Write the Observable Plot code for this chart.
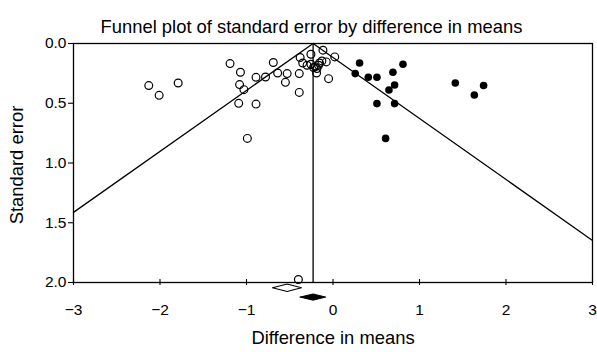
<!DOCTYPE html>
<html>
<head>
<meta charset="utf-8">
<script src="https://cdn.jsdelivr.net/npm/d3@7"></script>
<script src="https://cdn.jsdelivr.net/npm/@observablehq/plot@0.6"></script>
<style>
  html, body { margin: 0; padding: 0; background: #fff; }
  svg { display: block; }
</style>
</head>
<body>
<div id="chart"></div>
<script>
// ---- Data ----
const titleText = "Funnel plot of standard error by difference in means";
const xLabel = "Difference in means";
const yLabel = "Standard error";

const xTicks = [-3, -2, -1, 0, 1, 2, 3];
const yTicks = [0, 0.5, 1, 1.5, 2];

// Observed studies (open circles): difference in means
const observedDiff = [
  -2.13, -2.01, -1.79, -1.19, -1.07, -0.89, -1.08, -1.03, -1.09, -0.89,
  -0.99, -0.78, -0.69, -0.64, -0.53, -0.55, -0.39, -0.39, -0.38, -0.35,
  -0.30, -0.255, -0.255, -0.225, -0.205, -0.186, -0.167, -0.19, -0.156, -0.128,
  -0.116, -0.078, -0.051, 0.02, -0.40
];
// Observed studies: standard error
const observedSE = [
  0.352, 0.434, 0.331, 0.168, 0.241, 0.283, 0.344, 0.386, 0.501, 0.507,
  0.794, 0.280, 0.159, 0.247, 0.252, 0.325, 0.252, 0.409, 0.117, 0.163,
  0.182, 0.090, 0.174, 0.201, 0.196, 0.210, 0.182, 0.247, 0.163, 0.146,
  0.056, 0.154, 0.294, 0.112, 1.975
];

// Imputed studies (filled circles)
const imputedDiff = [0.307, 0.809, 0.257, 0.408, 0.508, 0.693, 0.712, 0.647, 0.508, 0.712, 0.608, 1.414, 1.741, 1.634];
const imputedSE   = [0.163, 0.174, 0.252, 0.283, 0.283, 0.241, 0.347, 0.389, 0.503, 0.503, 0.794, 0.331, 0.352, 0.431];

// Summary estimates (diamonds): observed and adjusted
const summaryName = ["observed", "adjusted"];
const summaryEst  = [-0.53, -0.23];
const summaryLow  = [-0.70, -0.38];
const summaryHigh = [-0.365, -0.085];

const funnelCenter = -0.23; // adjusted combined estimate
const zCrit = 1.96;

// ---- Derived tables ----
const observed = observedDiff.map((d, i) => ({x: d, se: observedSE[i]}));
const imputed = imputedDiff.map((d, i) => ({x: d, se: imputedSE[i]}));

const [xMin, xMax] = [xTicks[0], xTicks[xTicks.length - 1]];
const funnelLeft = [
  {x: funnelCenter, se: 0},
  {x: xMin, se: (funnelCenter - xMin) / zCrit}
];
const funnelRight = [
  {x: funnelCenter, se: 0},
  {x: xMax, se: (xMax - funnelCenter) / zCrit}
];

// layout of the diamonds below the axis (in SE units, i.e. just past 2.0)
const diamondRow = [2.044, 2.122];
const diamondHalf = [0.031, 0.026];
const diamond = (i) => [
  {x: summaryLow[i], se: diamondRow[i]},
  {x: summaryEst[i], se: diamondRow[i] - diamondHalf[i]},
  {x: summaryHigh[i], se: diamondRow[i]},
  {x: summaryEst[i], se: diamondRow[i] + diamondHalf[i]},
  {x: summaryLow[i], se: diamondRow[i]}
];

const fontFamily = "'Liberation Sans', Arial, Helvetica, sans-serif";

const chart = Plot.plot({
  width: 597,
  height: 352,
  marginTop: 43,
  marginBottom: 70,
  marginLeft: 73,
  marginRight: 5,
  style: {fontFamily, fontSize: "15.5px", color: "#000", background: "#fff"},
  x: {domain: [xMin, xMax]},
  y: {domain: [0, 2], reverse: true},
  marks: [
    Plot.frame({stroke: "#000", strokeWidth: 1.3}),
    // x tick marks crossing the axis
    Plot.ruleX(xTicks, {insetTop: 236, insetBottom: -3, stroke: "#000", strokeWidth: 1.1}),
    Plot.axisX({ticks: xTicks, tickSize: 0, tickPadding: 21, tickFormat: d3.format("d"), label: null, fontSize: 15.5}),
    Plot.axisY({ticks: yTicks, tickSize: 5, tickPadding: 2, tickFormat: d3.format(".1f"), label: null, fontSize: 15.5, strokeWidth: 1.1}),
    // funnel
    Plot.line(funnelLeft, {x: "x", y: "se", stroke: "#000", strokeWidth: 1.3}),
    Plot.line(funnelRight, {x: "x", y: "se", stroke: "#000", strokeWidth: 1.3}),
    Plot.ruleX([funnelCenter], {y1: 0, y2: 2, stroke: "#000", strokeWidth: 1.3}),
    // studies
    Plot.dot(observed, {x: "x", y: "se", r: 3.9, stroke: "#000", fill: "none", strokeWidth: 1.2}),
    Plot.dot(imputed, {x: "x", y: "se", r: 3.8, fill: "#000", stroke: "none"}),
    // summary diamonds
    Plot.line(diamond(0), {x: "x", y: "se", stroke: "#000", fill: "#fff", strokeWidth: 1.1}),
    Plot.line(diamond(1), {x: "x", y: "se", stroke: "#000", fill: "#000", strokeWidth: 1}),
    // texts
    Plot.text([titleText], {frameAnchor: "top-left", dx: 27, dy: -24, textAnchor: "start", fontSize: 18.4, fill: "#000"}),
    Plot.text([xLabel], {frameAnchor: "bottom", dy: 61, textAnchor: "middle", fontSize: 18.4, fill: "#000"}),
    Plot.text([yLabel], {frameAnchor: "left", dx: -56, dy: 2, textAnchor: "middle", rotate: -90, fontSize: 18.4, fill: "#000"})
  ]
});

document.getElementById("chart").appendChild(chart);
</script>
</body>
</html>
